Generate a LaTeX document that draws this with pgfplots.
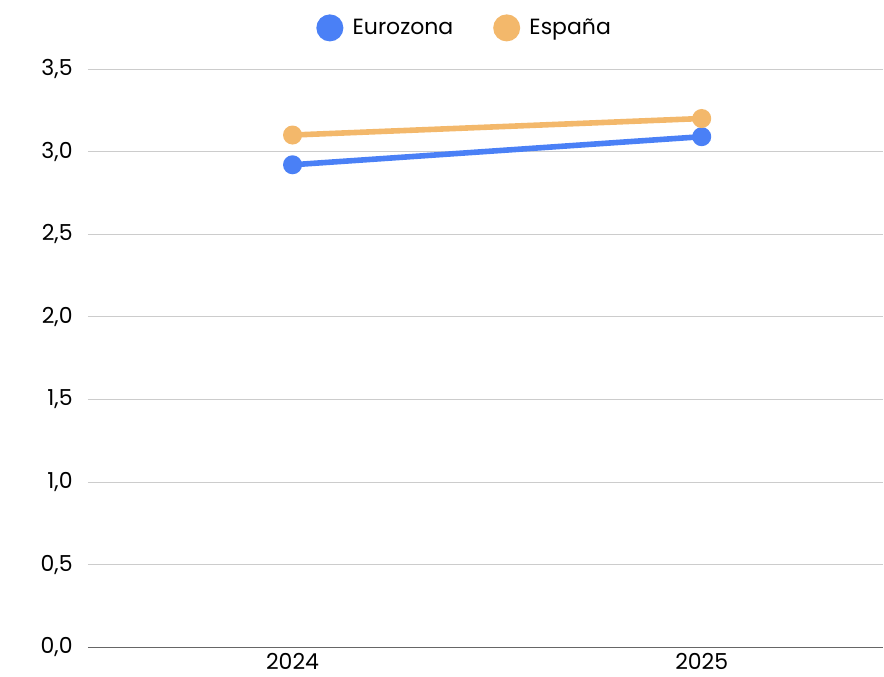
\documentclass[border=0pt]{standalone}
\usepackage{pgfplots}
\pgfplotsset{compat=1.18}
\usepackage{fontspec}
\setmainfont{Poppins}
\definecolor{euro}{HTML}{4A80F6}
\definecolor{esp}{HTML}{F3B86B}
\definecolor{gridg}{HTML}{CCCCCC}
\definecolor{axg}{HTML}{666666}
\begin{document}
\begin{tikzpicture}
\begin{axis}[
  name=main, at={(0,0)}, anchor=south west,
  scale only axis, width=597pt, height=434pt,
  xmin=-0.5, xmax=1.444, ymin=0, ymax=3.5,
  xtick={0,1}, xticklabels={2024,2025},
  ytick={0,0.5,...,3.5},
  ymajorgrids, grid style={gridg, line width=0.6pt},
  axis line style={draw=none},
  major tick length=0pt,
  tick label style={font=\fontsize{16.5}{19}\selectfont, black},
  yticklabel style={xshift=-8pt},
  xticklabel style={yshift=-1pt},
  /pgf/number format/assume math mode=true,
  /pgf/number format/use comma, /pgf/number format/fixed,
  /pgf/number format/precision=1, /pgf/number format/fixed zerofill,
  legend columns=2,
  legend style={draw=none, at={(0.474,1.071)}, anchor=center,
    font=\fontsize{16.5}{19}\selectfont,
    /tikz/every odd column/.append style={column sep=5pt},
    /tikz/every even column/.append style={column sep=28pt}},
  legend image code/.code={\fill[#1] (0pt,0pt) circle (8pt);},
  clip=false,
]
\draw[axg, line width=0.9pt] (rel axis cs:0,0) -- (rel axis cs:1,0);
\addplot[euro, line width=4.2pt, mark=*, mark size=5pt] coordinates {(0,2.92) (1,3.09)};
\addlegendentry{Eurozona}
\addplot[esp, line width=4.2pt, mark=*, mark size=5pt] coordinates {(0,3.10) (1,3.20)};
\addlegendentry{España}
\end{axis}
\useasboundingbox (-66pt,-21.75pt) rectangle (597pt,485.75pt);
\end{tikzpicture}
\end{document}
